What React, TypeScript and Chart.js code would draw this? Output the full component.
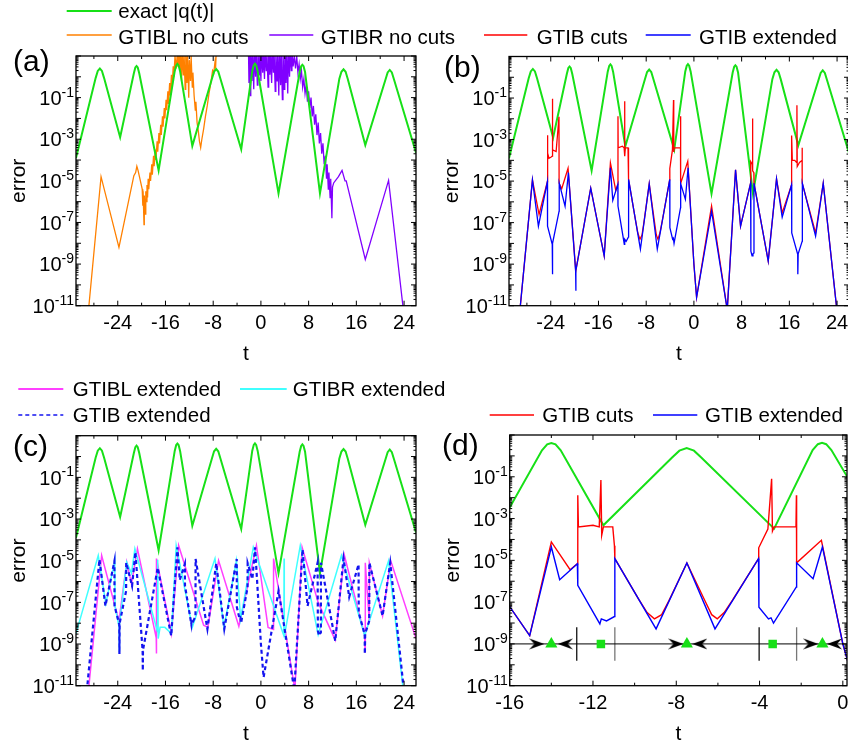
import React, { useEffect, useRef } from "react";
import { Chart, registerables } from "chart.js";

Chart.register(...registerables);

const FONT = '"Liberation Sans", Arial, Helvetica, sans-serif';

const GREEN = "#17e017";
const ORANGE = "#ff8000";
const PURPLE = "#8000ff";
const RED = "#ff0000";
const BLUE = "#0000ff";
const MAGENTA = "#ff40ff";
const CYAN = "#40ffff";
const DASHBLUE = "#1414f0";

// ---- tick labels / tick positions ----
const xTicksFull = [-24, -16, -8, 0, 8, 16, 24];
const xMinorFull = [-28, -20, -12, -4, 4, 12, 20];
const xTicksZoom = [-16, -12, -8, -4, 0];
const xMinorZoom = [-14, -10, -6, -2];
const yDecades = [-11, -10, -9, -8, -7, -6, -5, -4, -3, -2, -1, 0, 1];
const yLabelExps = [-11, -9, -7, -5, -3, -1];
const yMinorMultipliers = [2, 3, 4, 5, 6, 7, 8, 9];

// ---- series: [t, log10(value)] ----
const exactQLog: [number, number][] = [
  [-31.0, -3.9],
  [-27.7, -0.05], [-27.35, 0.28], [-27.0, 0.4], [-26.65, 0.28], [-26.3, -0.05],
  [-23.6, -2.9],
  [-21.3, 0.17], [-21.05, 0.45], [-20.85, 0.52], [-20.65, 0.45], [-20.4, 0.17],
  [-17.15, -4.5],
  [-14.45, 0.27], [-14.2, 0.55], [-14.0, 0.62], [-13.8, 0.55], [-13.55, 0.27],
  [-11.5, -3.32],
  [-8.2, -0.08], [-7.85, 0.25], [-7.5, 0.37], [-7.15, 0.25], [-6.8, -0.08],
  [-3.3, -3.48],
  [-1.45, 0.28], [-1.2, 0.56], [-1.0, 0.63], [-0.8, 0.56], [-0.55, 0.28],
  [2.95, -5.6],
  [6.5, 0.23], [6.75, 0.51], [6.95, 0.58], [7.15, 0.51], [7.4, 0.23],
  [9.9, -5.6],
  [13.15, -0.09], [13.5, 0.24], [13.85, 0.36], [14.2, 0.24], [14.55, -0.09],
  [17.5, -3.28],
  [20.9, -0.12], [21.25, 0.21], [21.6, 0.33], [21.95, 0.21], [22.3, -0.12],
  [26.0, -3.65],
];

const gtiblNoCutsLog: [number, number][] = [
  [-29.0, -11.5], [-26.8, -4.8], [-23.8, -8.2], [-21.3, -4.75], [-21.0, -4.6],
  [-20.8, -4.3], [-20.6, -4.5], [-19.9, -5.4], [-19.8, -6.2], [-19.75, -5.5],
  [-19.6, -7.1], [-19.55, -5.7], [-19.4, -6.6], [-19.3, -5.5], [-19.2, -6.0],
  [-19.1, -5.2], [-19.0, -5.8], [-18.9, -4.9], [-18.8, -5.4], [-18.6, -4.6],
  [-18.5, -5.0], [-18.3, -4.2], [-18.2, -4.7], [-18.0, -3.8], [-17.9, -4.3],
  [-17.7, -3.5], [-17.6, -4.0], [-17.4, -3.1], [-17.3, -3.6], [-17.1, -2.7],
  [-17.0, -3.2], [-16.8, -2.3], [-16.7, -2.8], [-16.5, -1.9], [-16.4, -2.4],
  [-16.2, -1.5], [-16.1, -2.0], [-15.9, -1.1], [-15.8, -1.6], [-15.6, -0.7],
  [-15.5, -1.3], [-15.3, -0.3], [-15.2, -0.9], [-15.0, 0.1], [-14.9, -0.5],
  [-14.7, 0.5], [-14.6, 0.0], [-14.4, 1.0], [-14.2, 0.4], [-14.0, 1.2],
  [-13.9, 0.5], [-13.8, 1.3], [-13.6, 0.3], [-13.5, 1.3], [-13.3, -0.2],
  [-13.2, 1.3], [-13.0, 0.1], [-12.9, 1.3], [-12.7, -0.6], [-12.6, 1.3],
  [-12.4, -0.3], [-12.3, 1.3], [-12.1, -1.0], [-12.0, 0.8], [-11.8, -0.2],
  [-11.7, 1.0], [-11.5, -0.5], [-11.4, 0.2], [-11.2, -0.9], [-11.0, -1.6],
  [-10.9, -1.2], [-10.7, -2.2], [-10.5, -2.6], [-10.3, -3.1], [-10.1, -3.4],
  [-9.9, -3.0], [-9.6, -2.5], [-9.3, -1.9], [-9.0, -1.4], [-8.7, -0.8],
  [-8.4, -0.3], [-8.1, 0.3], [-7.9, 0.2], [-7.7, 0.7], [-7.6, 0.4], [-7.45, 1.5],
];

const gtibrNoCutsLog: [number, number][] = [
  [-2.1, 1.5], [-2.0, -0.3], [-1.9, 1.3], [-1.8, -0.9], [-1.7, 1.3], [-1.5, -0.2],
  [-1.4, 1.3], [-1.2, -0.6], [-1.1, 1.3], [-0.9, 0.0], [-0.8, 1.3], [-0.6, -0.4],
  [-0.5, 1.3], [-0.3, 0.1], [-0.2, 1.3], [0.0, -0.2], [0.1, 1.3], [0.3, 0.2],
  [0.4, 1.3], [0.6, -0.1], [0.7, 1.3], [0.9, 0.3], [1.0, 1.3], [1.2, -0.5],
  [1.3, 1.3], [1.5, 0.1], [1.6, 1.3], [1.8, -0.3], [1.9, 1.3], [2.1, 0.2],
  [2.2, 1.3], [2.4, -0.7], [2.5, 1.3], [2.7, -0.2], [2.8, 1.3], [3.0, -0.9],
  [3.1, 1.3], [3.3, -0.4], [3.4, 1.3], [3.6, -1.1], [3.7, 1.3], [3.9, -0.6],
  [4.0, 1.3], [4.2, -0.3], [4.3, 1.3], [4.5, -0.8], [4.6, 1.3], [4.8, 0.0],
  [4.9, 1.3], [5.1, 0.3], [5.2, 1.3], [5.4, 0.5], [5.6, 1.0], [5.8, 0.4],
  [6.0, 1.0], [6.2, 0.2], [6.4, 0.6], [6.6, -0.1], [6.8, 0.3], [7.0, -0.5],
  [7.2, -0.1], [7.4, -0.8], [7.6, -0.4], [7.8, -1.2], [8.0, -0.7], [8.2, -1.5],
  [8.4, -1.0], [8.6, -1.9], [8.8, -1.4], [9.0, -2.3], [9.2, -1.8], [9.4, -2.8],
  [9.6, -2.2], [9.8, -3.2], [10.0, -2.7], [10.2, -3.7], [10.4, -3.2], [10.6, -4.2],
  [10.8, -3.8], [11.0, -4.9], [11.1, -4.2], [11.3, -5.4], [11.4, -4.6], [11.6, -5.8],
  [11.7, -4.9], [11.9, -6.8], [12.0, -5.3], [12.2, -5.1], [13.0, -4.8], [13.6, -4.5],
  [14.1, -5.0], [14.3, -5.0], [17.5, -8.78], [21.4, -4.98], [24.0, -11.5],
];

const gtibCutsLog: [number, number][] = [
  [-29.3, -11.6], [-27.07, -4.94], [-25.96, -6.61], [-24.56, -5.02], [-24.55, -2.79],
  [-24.5, -3.66], [-24.3, -3.9], [-24.0, -3.85], [-23.75, -3.8], [-23.72, -1.03],
  [-23.68, -3.5], [-23.1, -3.58], [-22.62, -1.9], [-22.6, -5.1], [-22.16, -5.37],
  [-21.1, -4.38], [-19.81, -9.33], [-17.3, -5.34], [-15.04, -8.6], [-14.0, -4.12],
  [-13.1, -5.45], [-12.75, -5.16], [-12.73, -1.88], [-12.7, -3.4], [-12.0, -3.32],
  [-11.7, -3.4], [-11.62, -1.16], [-11.58, -3.8], [-11.5, -3.4], [-11.05, -3.4],
  [-10.97, -4.3], [-10.95, -4.92], [-9.8, -6.87], [-9.4, -7.5], [-9.05, -7.8],
  [-8.7, -7.6], [-8.35, -6.93], [-7.49, -5.13], [-6.6, -6.98], [-6.3, -7.6],
  [-6.03, -7.8], [-5.7, -7.5], [-5.3, -6.9], [-4.05, -4.92], [-4.04, -4.4],
  [-3.6, -3.5], [-3.42, -1.1], [-3.38, -3.6], [-3.3, -3.4], [-2.25, -3.4],
  [-2.23, -1.88], [-2.22, -5.12], [-1.03, -4.04], [0.0, -9.0], [0.45, -10.6],
  [2.96, -6.2], [5.59, -11.2], [6.98, -4.46], [7.82, -7.17], [9.5, -5.1],
  [9.52, -4.06], [9.8, -4.2], [9.83, -1.99], [9.86, -4.5], [10.05, -4.6],
  [10.07, -5.1], [12.46, -8.85], [13.85, -4.89], [14.8, -6.53], [16.37, -5.18],
  [16.38, -2.8], [16.5, -4.0], [16.9, -4.0], [17.2, -4.1], [17.27, -1.35],
  [17.32, -4.3], [17.7, -4.1], [18.14, -4.0], [18.15, -3.4], [18.16, -5.1],
  [20.4, -7.5], [21.68, -5.1], [24.0, -11.3],
];

const gtibExtendedLog: [number, number][] = [
  [-29.3, -11.6], [-27.07, -4.94], [-26.07, -7.17], [-24.56, -5.02], [-24.54, -7.17],
  [-23.75, -8.05], [-23.72, -9.48], [-23.68, -8.0], [-22.6, -6.45], [-22.58, -5.1],
  [-21.6, -6.21], [-21.04, -4.59], [-19.83, -9.33], [-19.8, -10.28], [-19.77, -9.3],
  [-17.3, -5.34], [-15.04, -8.6], [-14.0, -4.36], [-13.6, -5.93], [-12.75, -5.16],
  [-12.73, -6.2], [-11.67, -8.04], [-11.6, -7.8], [-11.35, -7.9], [-10.97, -7.69],
  [-10.95, -4.92], [-8.97, -8.28], [-7.49, -5.13], [-6.14, -8.28], [-4.05, -4.92],
  [-4.03, -7.24], [-3.57, -7.8], [-3.45, -7.75], [-3.33, -8.0], [-2.24, -6.28],
  [-2.22, -5.12], [-1.43, -5.88], [-0.98, -4.36], [0.0, -9.0], [0.45, -10.6],
  [2.96, -6.45], [5.59, -11.2], [6.98, -4.46], [7.82, -7.17], [9.5, -5.1],
  [9.55, -8.37], [9.75, -8.6], [9.9, -8.5], [10.05, -8.45], [10.07, -5.1],
  [12.46, -8.85], [13.85, -4.89], [14.8, -6.74], [16.37, -5.18], [16.4, -7.5],
  [17.4, -8.53], [17.42, -9.48], [17.48, -8.5], [18.16, -7.89], [18.18, -5.1],
  [20.4, -7.65], [21.68, -5.1], [24.0, -11.3],
];

const gtiblExtendedLog: [number, number][] = [
  [-29.0, -11.5], [-26.7, -4.75], [-23.8, -7.9], [-22.5, -5.07], [-21.7, -6.1],
  [-20.7, -4.43], [-17.55, -8.7], [-17.52, -9.45], [-17.5, -4.9], [-15.0, -8.5],
  [-13.8, -4.27], [-9.6, -8.1], [-8.9, -8.2], [-7.1, -4.99], [-3.7, -8.15],
  [-0.75, -4.27], [1.2, -8.2], [2.1, -8.3], [2.12, -4.9], [5.7, -11.2],
  [6.9, -4.35], [9.6, -7.0], [12.45, -8.8], [14.0, -4.75], [17.4, -8.6],
  [17.45, -9.37], [17.5, -5.1], [18.16, -7.9], [18.18, -5.1], [20.4, -7.65],
  [21.76, -5.0], [26.0, -8.74],
];

const gtibrExtendedLog: [number, number][] = [
  [-31.0, -8.5], [-27.27, -4.75], [-26.0, -7.06], [-24.5, -5.0], [-24.45, -7.2],
  [-23.77, -8.2], [-23.75, -9.4], [-23.7, -8.1], [-22.5, -5.07], [-21.7, -5.6],
  [-21.13, -4.43], [-17.35, -8.4], [-17.3, -4.95], [-17.22, -8.74], [-16.9, -8.2],
  [-16.1, -8.2], [-15.0, -8.5], [-14.2, -4.27], [-11.5, -8.2], [-7.7, -4.9],
  [-6.2, -8.2], [-4.1, -5.0], [-3.4, -7.8], [-1.28, -4.35], [3.85, -8.6],
  [3.88, -4.9], [3.92, -8.66], [6.6, -4.27], [9.6, -8.55], [13.5, -4.75],
  [17.4, -8.6], [21.4, -5.0], [23.9, -11.3],
];

// ---- panel (d) annotation row at 1e-9 ----
const dMarkerLevelLog = -9;
const dBaseLineT = [-16, 0.2];
const dArrowRightT = [-14.7, -8.02, -1.54];
const dArrowLeftT = [-13.33, -6.87, -0.4];
const dTriangleT = [-14.0, -7.49, -0.98];
const dSquareT = [-11.62, -3.37];
const dCutBlackT = [-12.78, -4.02];
const dCutGrayT = [-10.95, -2.22];
const dCutSpanLog = [-8.2, -9.8];

const toXY = (pts: [number, number][]) => pts.map(([t, e]) => ({ x: t, y: Math.pow(10, e) }));
const atLevel = (ts: number[], e: number) => ts.map((t) => ({ x: t, y: Math.pow(10, e) }));

function lineDs(label: string, pts: [number, number][], color: string, width: number, order: number, extra: any = {}) {
  return {
    label,
    data: toXY(pts),
    borderColor: color,
    backgroundColor: color,
    borderWidth: width,
    pointRadius: 0,
    fill: false,
    tension: 0,
    order,
    ...extra,
  };
}

const axesPlugin = {
  id: "paperAxes",
  afterDraw(chart: any, _args: any, opts: any) {
    const { ctx, chartArea: a } = chart;
    const xs = chart.scales.x;
    const ys = chart.scales.y;
    ctx.save();
    ctx.strokeStyle = "#000";
    ctx.fillStyle = "#000";
    ctx.lineWidth = 1;
    const seg = (x1: number, y1: number, x2: number, y2: number) => {
      ctx.beginPath();
      ctx.moveTo(x1, y1);
      ctx.lineTo(x2, y2);
      ctx.stroke();
    };
    const xt = (v: number, len: number) => {
      const px = xs.getPixelForValue(v);
      seg(px, a.bottom, px, a.bottom - len);
      seg(px, a.top, px, a.top + len);
    };
    opts.xMajor.forEach((v: number) => xt(v, 5));
    opts.xMinor.forEach((v: number) => xt(v, 3));
    yDecades.forEach((k) => {
      const py = ys.getPixelForValue(Math.pow(10, k));
      seg(a.left, py, a.left + 5, py);
      seg(a.right, py, a.right - 5, py);
      if (k < 1) {
        yMinorMultipliers.forEach((m) => {
          const pm = ys.getPixelForValue(m * Math.pow(10, k));
          if (pm >= a.top) {
            seg(a.left, pm, a.left + 2.5, pm);
            seg(a.right, pm, a.right - 2.5, pm);
          }
        });
      }
    });
    ctx.lineWidth = 1.3;
    ctx.strokeRect(a.left, a.top, a.right - a.left, a.bottom - a.top);

    ctx.font = `20px ${FONT}`;
    ctx.textAlign = "center";
    ctx.textBaseline = "alphabetic";
    opts.xMajor.forEach((v: number) => {
      ctx.fillText(String(v), xs.getPixelForValue(v), a.bottom + 22.8);
    });

    yLabelExps.forEach((k) => {
      const py = ys.getPixelForValue(Math.pow(10, k));
      const sup = String(k);
      ctx.font = `20px ${FONT}`;
      const w10 = ctx.measureText("10").width;
      ctx.font = `14px ${FONT}`;
      const ws = ctx.measureText(sup).width;
      const x0 = a.left - 2 - ws - w10;
      ctx.textAlign = "left";
      ctx.font = `20px ${FONT}`;
      ctx.fillText("10", x0, py + 7.2);
      ctx.font = `14px ${FONT}`;
      ctx.fillText(sup, x0 + w10, py - 1);
    });

    ctx.font = `21px ${FONT}`;
    ctx.textAlign = "center";
    ctx.fillText("t", (a.left + a.right) / 2, a.bottom + 54.3);
    ctx.save();
    ctx.translate(a.left - 51, (a.top + a.bottom) / 2);
    ctx.rotate(-Math.PI / 2);
    ctx.fillText("error", 0, 0);
    ctx.restore();

    ctx.font = `30px ${FONT}`;
    ctx.textAlign = "left";
    ctx.fillText(opts.panel, opts.panelX, opts.panelY);
    ctx.restore();
  },
};

function makeConfig(spec: any) {
  return {
    type: "line",
    data: { datasets: spec.datasets },
    plugins: [axesPlugin],
    options: {
      animation: false,
      responsive: false,
      maintainAspectRatio: false,
      devicePixelRatio: 1,
      events: [],
      layout: { padding: spec.padding },
      scales: {
        x: { type: "linear", min: spec.xMin, max: spec.xMax, display: false },
        y: { type: "logarithmic", min: 1e-11, max: 10, display: false },
      },
      plugins: {
        legend: { display: false },
        tooltip: { enabled: false },
        paperAxes: {
          xMajor: spec.xMajor,
          xMinor: spec.xMinor,
          panel: spec.panel,
          panelX: spec.panelX,
          panelY: spec.panelY,
        },
      },
    },
  };
}

function makeArrow(dir: number) {
  const c = document.createElement("canvas");
  c.width = 15;
  c.height = 12;
  const g = c.getContext("2d")!;
  g.fillStyle = "#000";
  g.beginPath();
  if (dir > 0) {
    g.moveTo(15, 6);
    g.lineTo(0, 0.5);
    g.lineTo(5, 6);
    g.lineTo(0, 11.5);
  } else {
    g.moveTo(0, 6);
    g.lineTo(15, 0.5);
    g.lineTo(10, 6);
    g.lineTo(15, 11.5);
  }
  g.closePath();
  g.fill();
  return c;
}

const PANEL_W = 430;
const PANEL_H = 330;

export default function App() {
  const refA = useRef<HTMLCanvasElement>(null);
  const refB = useRef<HTMLCanvasElement>(null);
  const refC = useRef<HTMLCanvasElement>(null);
  const refD = useRef<HTMLCanvasElement>(null);

  useEffect(() => {
    const charts: Chart[] = [];
    const full = { xMin: -31, xMax: 26, xMajor: xTicksFull, xMinor: xMinorFull };

    const specA = {
      ...full,
      panel: "(a)",
      panelX: 13,
      panelY: 31,
      padding: { left: 76, top: 16, right: PANEL_W - 416, bottom: 64.3 },
      datasets: [
        lineDs("exact |q(t)|", exactQLog, GREEN, 2, 1),
        lineDs("GTIBL no cuts", gtiblNoCutsLog, ORANGE, 1.3, 3),
        lineDs("GTIBR no cuts", gtibrNoCutsLog, PURPLE, 1.3, 2),
      ],
    };
    const specB = {
      ...full,
      panel: "(b)",
      panelX: 20,
      panelY: 36.7,
      padding: { left: 85, top: 16.5, right: 5, bottom: 64.3 },
      datasets: [
        lineDs("exact |q(t)|", exactQLog, GREEN, 2, 5),
        lineDs("GTIB cuts", gtibCutsLog, RED, 1.3, 3),
        lineDs("GTIB extended", gtibExtendedLog, BLUE, 1.3, 2),
      ],
    };
    const specC = {
      ...full,
      panel: "(c)",
      panelX: 13,
      panelY: 36,
      padding: { left: 76, top: 15.7, right: PANEL_W - 416, bottom: 64.3 },
      datasets: [
        lineDs("exact |q(t)|", exactQLog, GREEN, 2, 5),
        lineDs("GTIBL extended", gtiblExtendedLog, MAGENTA, 1.5, 4),
        lineDs("GTIBR extended", gtibrExtendedLog, CYAN, 1.5, 3),
        lineDs("GTIB extended", gtibExtendedLog, DASHBLUE, 2.2, 1, { borderDash: [4, 3] }),
      ],
    };
    const arrowR = makeArrow(1);
    const arrowL = makeArrow(-1);
    const cutDs = (ts: number[], color: string) =>
      ts.map((t) => ({
        data: dCutSpanLog.map((e) => ({ x: t, y: Math.pow(10, e) })),
        borderColor: color,
        borderWidth: 1.3,
        pointRadius: 0,
        order: 2,
      }));
    const markerDs = (ts: number[], style: any, radius: number, color: string) => ({
      data: atLevel(ts, dMarkerLevelLog),
      showLine: false,
      pointStyle: style,
      pointRadius: radius,
      pointBackgroundColor: color,
      pointBorderColor: color,
      pointBorderWidth: 0,
      order: 0,
    });
    const specD = {
      xMin: -16,
      xMax: 0.2,
      xMajor: xTicksZoom,
      xMinor: xMinorZoom,
      panel: "(d)",
      panelX: 18,
      panelY: 35.2,
      padding: { left: 85.7, top: 15, right: 4, bottom: 64.3 },
      datasets: [
        lineDs("exact |q(t)|", exactQLog, GREEN, 2, 6),
        lineDs("GTIB cuts", gtibCutsLog, RED, 1.4, 4),
        lineDs("GTIB extended", gtibExtendedLog, BLUE, 1.4, 3),
        {
          data: atLevel(dBaseLineT, dMarkerLevelLog),
          borderColor: "#000",
          borderWidth: 1,
          pointRadius: 0,
          order: 2,
        },
        ...cutDs(dCutBlackT, "#111"),
        ...cutDs(dCutGrayT, "#777"),
        markerDs(dArrowRightT, arrowR, 6, "#000"),
        markerDs(dArrowLeftT, arrowL, 6, "#000"),
        markerDs(dTriangleT, "triangle", 7, GREEN),
        markerDs(dSquareT, "rect", 6, GREEN),
      ],
    };

    const pairs: [React.RefObject<HTMLCanvasElement>, any][] = [
      [refA, specA],
      [refB, specB],
      [refC, specC],
      [refD, specD],
    ];
    pairs.forEach(([r, s]) => {
      if (r.current) charts.push(new Chart(r.current, makeConfig(s) as any));
    });
    return () => charts.forEach((c) => c.destroy());
  }, []);

  const canvasStyle = (left: number, top: number): React.CSSProperties => ({
    position: "absolute",
    left,
    top,
    width: PANEL_W,
    height: PANEL_H,
  });

  const legendText = (text: string, left: number, top: number) => (
    <div
      key={text + left + top}
      style={{
        position: "absolute",
        left,
        top,
        height: 24,
        lineHeight: "24px",
        fontSize: 20.5,
        fontFamily: FONT,
        whiteSpace: "nowrap",
        color: "#000",
      }}
    >
      {text}
    </div>
  );

  return (
    <div
      style={{
        position: "fixed",
        left: 0,
        top: 0,
        width: 848,
        height: 745,
        overflow: "hidden",
        background: "#fff",
      }}
    >
      <canvas ref={refA} width={PANEL_W} height={PANEL_H} style={canvasStyle(0, 40)} />
      <canvas ref={refB} width={PANEL_W} height={PANEL_H} style={canvasStyle(424, 40)} />
      <canvas ref={refC} width={PANEL_W} height={PANEL_H} style={canvasStyle(0, 420)} />
      <canvas ref={refD} width={PANEL_W} height={PANEL_H} style={canvasStyle(424, 420)} />
      <svg
        width={848}
        height={745}
        style={{ position: "absolute", left: 0, top: 0, pointerEvents: "none" }}
      >
        <line x1={66.7} y1={11} x2={111.7} y2={11} stroke={GREEN} strokeWidth={2} />
        <line x1={66.7} y1={35} x2={111.7} y2={35} stroke={ORANGE} strokeWidth={1.5} />
        <line x1={269.3} y1={35} x2={313.3} y2={35} stroke={PURPLE} strokeWidth={1.5} />
        <line x1={484} y1={35} x2={527.3} y2={35} stroke={RED} strokeWidth={1.5} />
        <line x1={645.7} y1={35} x2={690.7} y2={35} stroke={BLUE} strokeWidth={1.5} />
        <line x1={18.3} y1={389} x2={63.3} y2={389} stroke={MAGENTA} strokeWidth={1.8} />
        <line x1={240} y1={389} x2={286.7} y2={389} stroke={CYAN} strokeWidth={1.8} />
        <line x1={18.3} y1={415} x2={63.3} y2={415} stroke={DASHBLUE} strokeWidth={1.5} strokeDasharray="4 3" />
        <line x1={489.7} y1={415} x2={534} y2={415} stroke={RED} strokeWidth={1.5} />
        <line x1={653} y1={415} x2={697.3} y2={415} stroke={BLUE} strokeWidth={1.5} />
      </svg>
      {legendText("exact |q(t)|", 118.3, -0.7)}
      {legendText("GTIBL no cuts", 118.3, 24.6)}
      {legendText("GTIBR no cuts", 320.7, 24.6)}
      {legendText("GTIB cuts", 536.7, 24.6)}
      {legendText("GTIB extended", 699, 24.6)}
      {legendText("GTIBL extended", 72.7, 377.2)}
      {legendText("GTIBR extended", 292.7, 377.2)}
      {legendText("GTIB extended", 72.7, 402.8)}
      {legendText("GTIB cuts", 542.3, 402.8)}
      {legendText("GTIB extended", 705, 402.8)}
    </div>
  );
}
